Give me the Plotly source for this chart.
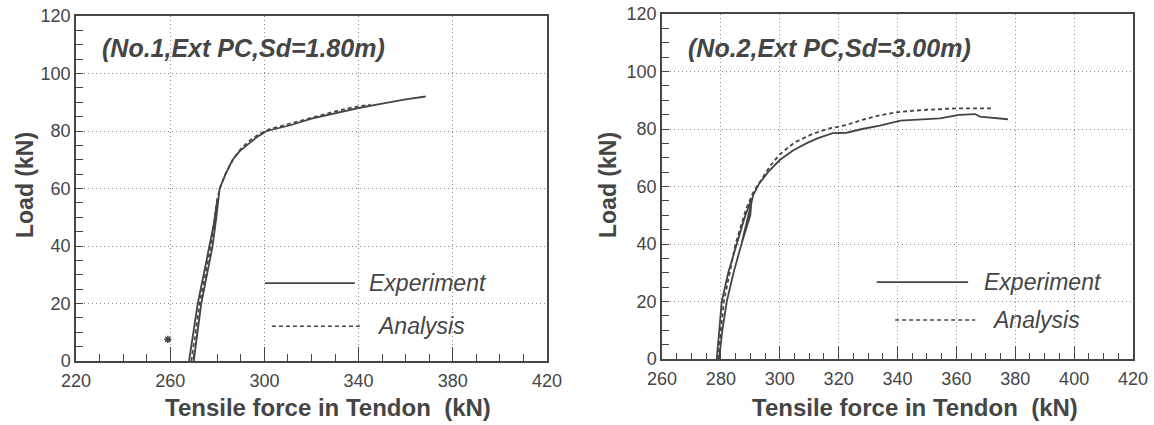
import plotly.graph_objects as go
from plotly.subplots import make_subplots

# ---------- data ----------
exp1_x = [268, 269.8, 271.7, 274.2, 276.8, 278.6, 280, 279.6, 278, 275.6, 273.2, 271.5, 270,
          271.5, 273.2, 275.6, 278, 279.6, 280.3, 281, 283.5, 286.5, 289.5, 293, 297, 301,
          306, 311, 320, 330, 340, 350, 360, 368.5]
exp1_y = [0, 10, 20, 30, 40, 48, 56, 50, 40, 30, 20, 10, 0,
          10, 20, 30, 40, 50, 56, 60, 65, 70, 73, 75.2, 78, 80,
          81, 82, 84.3, 86.2, 88, 89.5, 91, 92]
ana1_x = [269, 272.5, 277.3, 280, 281.5, 284, 287, 290, 294, 298, 302, 308, 315, 322, 330, 338, 345]
ana1_y = [0, 20, 40, 56.5, 61, 66, 70.5, 73.8, 76.8, 79, 80.6, 81.9, 83.6, 85.2, 86.8, 88.3, 89.2]
stray1_x = [259]
stray1_y = [7.5]

exp2_x = [278.6, 279.3, 280.3, 282.5, 285.4, 288, 290.5, 290, 287, 284.3, 282, 280.5, 279.4,
          280.5, 282, 284.3, 287, 289.5, 291, 293, 296, 300, 304.5, 309, 313, 318, 322.7,
          328, 334, 341, 348, 354.4, 361, 366.3, 368, 372, 377.5]
exp2_y = [0, 8, 20, 30, 40, 49, 56, 50, 40, 30, 20, 10, 0,
          10, 20, 30, 40, 50, 57, 61, 65, 69.2, 72.5, 75, 76.8, 78.6, 78.7,
          80, 81.2, 82.9, 83.3, 83.7, 84.9, 85.2, 84.3, 84, 83.4]
ana2_x = [279, 281, 285, 288.5, 291, 294, 297, 300, 305, 311, 316, 322.7, 328, 334, 341, 350, 361, 372.5]
ana2_y = [0, 20, 40, 52, 58, 63, 67.5, 71.2, 75.3, 78.2, 80, 81.4, 83.2, 84.8, 86, 86.7, 87.2, 87.2]

titles = ["(No.1,Ext PC,Sd=1.80m)", "(No.2,Ext PC,Sd=3.00m)"]
legend_labels = ["Experiment", "Analysis"]
x_title = "Tensile force in Tendon  (kN)"
y_title = "Load (kN)"

# ---------- style ----------
INK = "#454545"
GRID = "#8a8a8a"
FONT = "Liberation Sans, Arial, sans-serif"
W, H = 1154, 425

fig = make_subplots(rows=1, cols=2)

line_solid = dict(color=INK, width=1.8)
line_dash = dict(color=INK, width=1.8, dash="4px,3px")

fig.add_trace(go.Scatter(x=exp1_x, y=exp1_y, mode="lines", line=line_solid, showlegend=False), 1, 1)
fig.add_trace(go.Scatter(x=ana1_x, y=ana1_y, mode="lines", line=line_dash, showlegend=False), 1, 1)
fig.add_trace(go.Scatter(x=stray1_x, y=stray1_y, mode="markers",
                         marker=dict(symbol="asterisk-open", size=6, color=INK, line=dict(width=1.5, color=INK)),
                         showlegend=False), 1, 1)
fig.add_trace(go.Scatter(x=exp2_x, y=exp2_y, mode="lines", line=line_solid, showlegend=False), 1, 2)
fig.add_trace(go.Scatter(x=ana2_x, y=ana2_y, mode="lines", line=line_dash, showlegend=False), 1, 2)

# plot areas in screen pixels
L = dict(x0=76, x1=547, y0=16, y1=361)
R = dict(x0=662, x1=1133, y0=14, y1=359)

def px(xp):
    return xp / W

def py(yp):
    return (H - yp) / H

def dom(p):
    return [px(p["x0"]), px(p["x1"])], [py(p["y1"]), py(p["y0"])]

lx, ly = dom(L)
rx, ry = dom(R)

common_axis = dict(showline=True, linecolor=INK, linewidth=1.5, mirror=True,
                   ticks="inside", tickcolor=INK, automargin=False,
                   ticklabeloverflow="allow",
                   showgrid=True, gridcolor=GRID, gridwidth=1, griddash="1px,3px",
                   zeroline=False,
                   tickfont=dict(family=FONT, size=18, color=INK))

fig.update_xaxes(**common_axis, ticklabelstandoff=3)
fig.update_yaxes(**common_axis)

fig.update_layout(
    xaxis=dict(domain=lx, range=[220, 420], tick0=220, dtick=40, ticklen=14, tickwidth=1.2,
               minor=dict(dtick=10, ticks="inside", ticklen=7, tickcolor=INK, showgrid=False)),
    yaxis=dict(domain=ly, range=[0, 120], dtick=20, ticklen=7, tickwidth=1,
               minor=dict(dtick=5, ticks="inside", ticklen=7, tickcolor=INK, showgrid=False)),
    xaxis2=dict(domain=rx, range=[260, 420], tick0=260, dtick=20, ticklen=13, tickwidth=1.2,
                minor=dict(dtick=5, ticks="inside", ticklen=6, tickcolor=INK, showgrid=False)),
    yaxis2=dict(domain=ry, range=[0, 120], dtick=20, ticklen=7, tickwidth=1,
                minor=dict(dtick=5, ticks="inside", ticklen=7, tickcolor=INK, showgrid=False)),
    width=W, height=H,
    margin=dict(l=0, r=0, t=0, b=0, autoexpand=False),
    paper_bgcolor="white", plot_bgcolor="white",
    showlegend=False,
)

ann = []
shapes = []
for i, (p, suffix) in enumerate([(L, ""), (R, "2")]):
    xr = "x" + suffix + " domain"
    yr = "y" + suffix + " domain"
    # panel title
    ann.append(dict(text="<b><i>" + titles[i] + "</i></b>", xref=xr, yref=yr,
                    x=0.052, y=[0.907, 0.901][i], xanchor="left", yanchor="middle",
                    showarrow=False, font=dict(family=FONT, size=25, color=INK)))
    # axis titles
    ann.append(dict(text="<b>" + x_title.replace("  ", "&nbsp; ") + "</b>", xref="paper", yref="paper",
                    x=px([328, 915][i]), y=py(407), xanchor="center", yanchor="middle",
                    showarrow=False, font=dict(family=FONT, size=24, color=INK)))
    ann.append(dict(text="<b>" + y_title + "</b>", xref="paper", yref="paper",
                    x=px([25, 608][i]), y=py(185), xanchor="center", yanchor="middle",
                    textangle=-90, showarrow=False, font=dict(family=FONT, size=23, color=INK)))

# legend keys (in domain fractions of each panel)
leg = [
    dict(solid=(0.401, 0.592, 0.226), stxt=0.618, dashd=(0.416, 0.607, 0.101), dtxt=0.635),
    dict(solid=(0.456, 0.650, 0.223), stxt=0.679, dashd=(0.495, 0.665, 0.113), dtxt=0.696),
]
for i, suffix in enumerate(["", "2"]):
    xr = "x" + suffix + " domain"
    yr = "y" + suffix + " domain"
    g = leg[i]
    a0, a1, ay = g["solid"]
    shapes.append(dict(type="line", xref=xr, yref=yr, x0=a0, x1=a1, y0=ay, y1=ay,
                       line=dict(color=INK, width=1.8)))
    ann.append(dict(text="<i>" + legend_labels[0] + "</i>", xref=xr, yref=yr, x=g["stxt"], y=ay,
                    xanchor="left", yanchor="middle", showarrow=False,
                    font=dict(family=FONT, size=23, color=INK)))
    b0, b1, by = g["dashd"]
    shapes.append(dict(type="line", xref=xr, yref=yr, x0=b0, x1=b1, y0=by, y1=by,
                       line=dict(color=INK, width=1.5, dash="4px,3px")))
    ann.append(dict(text="<i>" + legend_labels[1] + "</i>", xref=xr, yref=yr, x=g["dtxt"], y=by,
                    xanchor="left", yanchor="middle", showarrow=False,
                    font=dict(family=FONT, size=23, color=INK)))

fig.update_layout(annotations=ann, shapes=shapes)
fig.write_html("out.html",
               config={"displayModeBar": False},
               post_script="document.body.style.margin='0';"
                           "document.documentElement.style.overflow='hidden';")
